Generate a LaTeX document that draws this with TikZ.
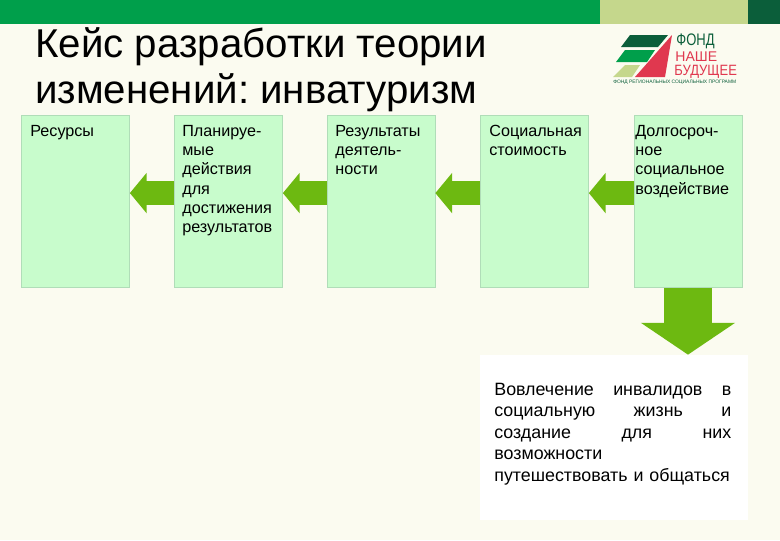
\documentclass[tikz,border=0pt]{standalone}
\usepackage{fontspec}
\usepackage{graphicx}
\setmainfont{Liberation Sans}
\frenchspacing
\usetikzlibrary{arrows.meta}
\definecolor{paper}{HTML}{FBFBF0}
\definecolor{barmid}{HTML}{009F4B}
\definecolor{barlight}{HTML}{C5D78C}
\definecolor{bardark}{HTML}{0B5E3A}
\definecolor{boxfill}{HTML}{C8FCCC}
\definecolor{boxline}{HTML}{B0DDB8}
\definecolor{arrowgreen}{HTML}{6DB911}
\definecolor{logored}{HTML}{E0384F}
\tikzset{
  stepbox/.style={rectangle, draw=boxline, fill=boxfill, line width=0.4pt, minimum width=2.16cm, minimum height=3.44cm},
  boxtext/.style={anchor=north west, inner sep=0pt, align=left, font=\fontsize{9.2}{10.95}\selectfont},
  logotext/.style={anchor=west, inner sep=0pt},
  leftarrow/.style={draw=arrowgreen, line width=13.6pt, -{Triangle[length=9.6pt,width=22.6pt]}},
  downarrow/.style={draw=arrowgreen, line width=27.2pt, -{Triangle[length=18.1pt,width=52.7pt]}},
}
\begin{document}
\begin{tikzpicture}[x=0.2mm, y=-0.2mm]
\useasboundingbox (0,0) rectangle (780,540);
\fill [paper] (0,0) rectangle (780,540);

% top bar
\fill [barmid] (0,0) rectangle (600,24);
\fill [barlight] (600,0) rectangle (748,24);
\fill [bardark] (748,0) rectangle (780,24);

\node [anchor=north west, inner sep=0pt, align=left, font=\fontsize{22.9}{26}\selectfont] (title) at (35,27.5) {Кейс разработки теории\\изменений: инватуризм};

% logo
\fill [bardark] (630,35) -- (668,35) -- (658,47) -- (621,47) -- cycle;
\fill [barmid] (625,50) -- (655,50) -- (647,62) -- (616,62) -- cycle;
\fill [barlight] (625,65) -- (640,65) -- (632,77) -- (613,77) -- cycle;
\fill [logored] (672,35) -- (665,77) -- (635,77) -- cycle;
\node [logotext, text=bardark, font=\fontsize{9.5}{10}\selectfont] (logo1) at (676,41) {\scalebox{0.78}[1]{ФОНД}};
\node [logotext, text=logored, font=\fontsize{8}{9}\selectfont] (logo2) at (675,56.5) {НАШЕ};
\node [logotext, text=logored, font=\fontsize{8.5}{9}\selectfont] (logo3) at (674,72) {\scalebox{0.87}[1]{БУДУЩЕЕ}};
\node [anchor=west, inner sep=0pt, text=bardark, font=\fontsize{2.8}{3}\selectfont] (logo4) at (613,82.5) {ФОНД РЕГИОНАЛЬНЫХ СОЦИАЛЬНЫХ ПРОГРАММ};

% boxes
\node [stepbox] (v1) at (75.5,201.5) {};
\node [stepbox] (v2) at (228.5,201.5) {};
\node [stepbox] (v3) at (381,201.5) {};
\node [stepbox] (v4) at (534.5,201.5) {};
\node [stepbox] (v5) at (688,201.5) {};
\node [boxtext] (t1) at (30,125) {Ресурсы};
\node [boxtext] (t2) at (182,125) {Планируе-\\мые\\действия\\для\\достижения\\результатов};
\node [boxtext] (t3) at (335,125) {Результаты\\деятель-\\ности};
\node [boxtext] (t4) at (489,125) {Социальная\\стоимость};
\node [boxtext] (t5) at (635,125) {Долгосроч-\\ное\\социальное\\воздействие};

% result
\node [rectangle, fill=white, minimum width=5.36cm, minimum height=3.3cm] (v6) at (614,437.5) {};
\node [anchor=north west, inner sep=0pt, text width=4.74cm, align=left, font=\fontsize{10.15}{12.3}\selectfont] (t6) at (494,382.5) {Вовлечение\hfill инвалидов\hfill в\\социальную\hfill жизнь\hfill и\\создание\hfill для\hfill них\\возможности\\путешествовать и общаться};

% arrows
\draw [leftarrow] ([yshift=4.8pt]v2.west) -- ([yshift=4.8pt]v1.east);
\draw [leftarrow] ([yshift=4.8pt]v3.west) -- ([yshift=4.8pt]v2.east);
\draw [leftarrow] ([yshift=4.8pt]v4.west) -- ([yshift=4.8pt]v3.east);
\draw [leftarrow] ([yshift=4.8pt]v5.west) -- ([yshift=4.8pt]v4.east);
\draw [downarrow] (v5.south) -- (v5.south |- v6.north);
\end{tikzpicture}
\end{document}
